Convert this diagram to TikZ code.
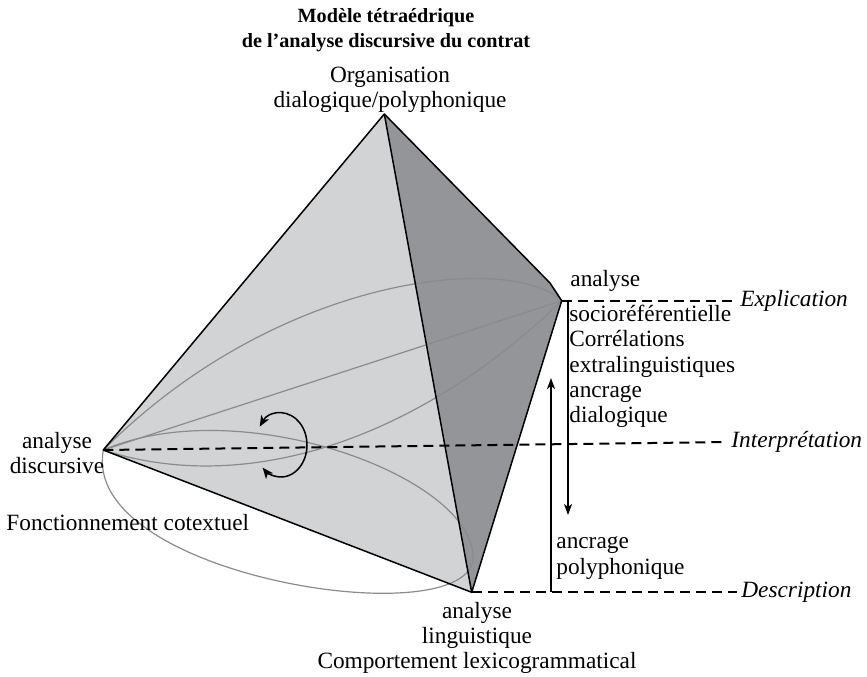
\documentclass[tikz,border=0pt]{standalone}
\usepackage{fontspec}
\setmainfont{Liberation Serif}
\usepackage{tikz}
\usetikzlibrary{arrows,arrows.meta}
\usetikzlibrary{calc}
\definecolor{facelight}{HTML}{D1D3D4}
\definecolor{facedark}{HTML}{939598}
\definecolor{lensgray}{HTML}{8A8B8D}
\tikzstyle{every node}=[font=\fontsize{11.65}{12.7}\selectfont,inner sep=0pt]
\tikzstyle{tetraedge}=[line width=0.75pt,line join=round]
\tikzstyle{lens}=[lensgray,line width=0.6pt]
\tikzstyle{levelline}=[dash pattern=on 5pt off 3pt,line width=1pt,shorten >=2pt]
\tikzstyle{leveltext}=[anchor=north west,font=\fontsize{11.65}{12.7}\selectfont\itshape]
\tikzstyle{updown}=[-{Stealth[length=5.5pt,width=4pt,inset=1.5pt]},line width=0.75pt]

\begin{document}
\begin{tikzpicture}[x=0.5pt,y=0.5pt]
\useasboundingbox (0,0) rectangle (867,-676);

% sommets
\coordinate (dialog) at (384.3,-114);
\coordinate (disc) at (103.3,-450);
\coordinate (socio) at (561.7,-300.7);
\coordinate (ling) at (471.7,-592.3);
\coordinate (kink) at (550,-283);

% faces
\fill[facelight] (dialog) -- (disc) -- (ling) -- cycle;
\fill[facedark] (dialog) -- (kink) -- (socio) -- (ling) -- cycle;

% courbes
\draw[lens] (disc) .. controls (280,-273) and (511,-253) .. (socio);
\draw[lens] (disc) -- (socio);
\draw[lens] (disc) .. controls (245.7,-496.4) and (418.2,-440) .. (socio);
\coordinate (cotexe) at (473,-557);
\draw[lens] (disc) .. controls (241,-391) and (473,-477) .. (cotexe)
  .. controls (473,-637) and (79.6,-577.4) .. (disc);

% aretes
\draw[tetraedge] (dialog) -- (disc) -- (ling) -- (socio) -- (kink) -- cycle;
\draw[tetraedge] (dialog) -- (ling);

% rotation
\coordinate (turn) at (281,-445);
\draw[{Stealth[length=5.5pt,width=4.5pt,inset=1.5pt]}-{Stealth[length=5.5pt,width=4.5pt,inset=1.5pt]},line width=0.75pt] (turn) ++(145:26 and 32) arc[start angle=145,end angle=-135,x radius=26,y radius=32];

% textes
\node[anchor=north,align=center,font=\fontsize{10.1}{12.5}\selectfont\bfseries] (title) at (386,-8.5) {Modèle tétraédrique\\de l’analyse discursive du contrat};
\node[anchor=north,align=center] (orga) at (390,-66.5) {Organisation\\dialogique/polyphonique};
\node[anchor=north,align=center] (disclbl) at (57,-431.5) {analyse\\discursive};
\node[anchor=north west] (cotex) at (6,-513.5) {Fonctionnement cotextuel};
\node[anchor=north,align=center] (linglbl) at (477,-601.5) {analyse\\linguistique\\Comportement lexicogrammatical};
\node[anchor=north west] (sociolbl) at (570,-269.5) {analyse};
\node[anchor=north west,align=left] (correl) at (569,-304.5) {socioréférentielle\\Corrélations\\extralinguistiques\\ancrage\\dialogique};
\node[anchor=north west,align=left] (polyph) at (556,-536.5) {ancrage\\polyphonique};
\node[leveltext] (expl) at (740,-290) {Explication};
\node[leveltext] (interp) at (731,-431) {Interprétation};
\node[leveltext] (descr) at (741,-582) {Description};

% niveaux
\draw[levelline] (socio) -- (socio -| expl.west);
\draw[levelline] (disc) -- (interp.west);
\draw[levelline] (ling) -- (ling -| descr.west);

% fleches
\coordinate (upfoot) at (551,-592);
\coordinate (uptip) at (551,-378);
\coordinate (downfoot) at (568,-300);
\coordinate (downtip) at (568,-515);
\draw[updown] (upfoot) -- (uptip);
\draw[updown] (downfoot) -- (downtip);
\end{tikzpicture}
\end{document}
